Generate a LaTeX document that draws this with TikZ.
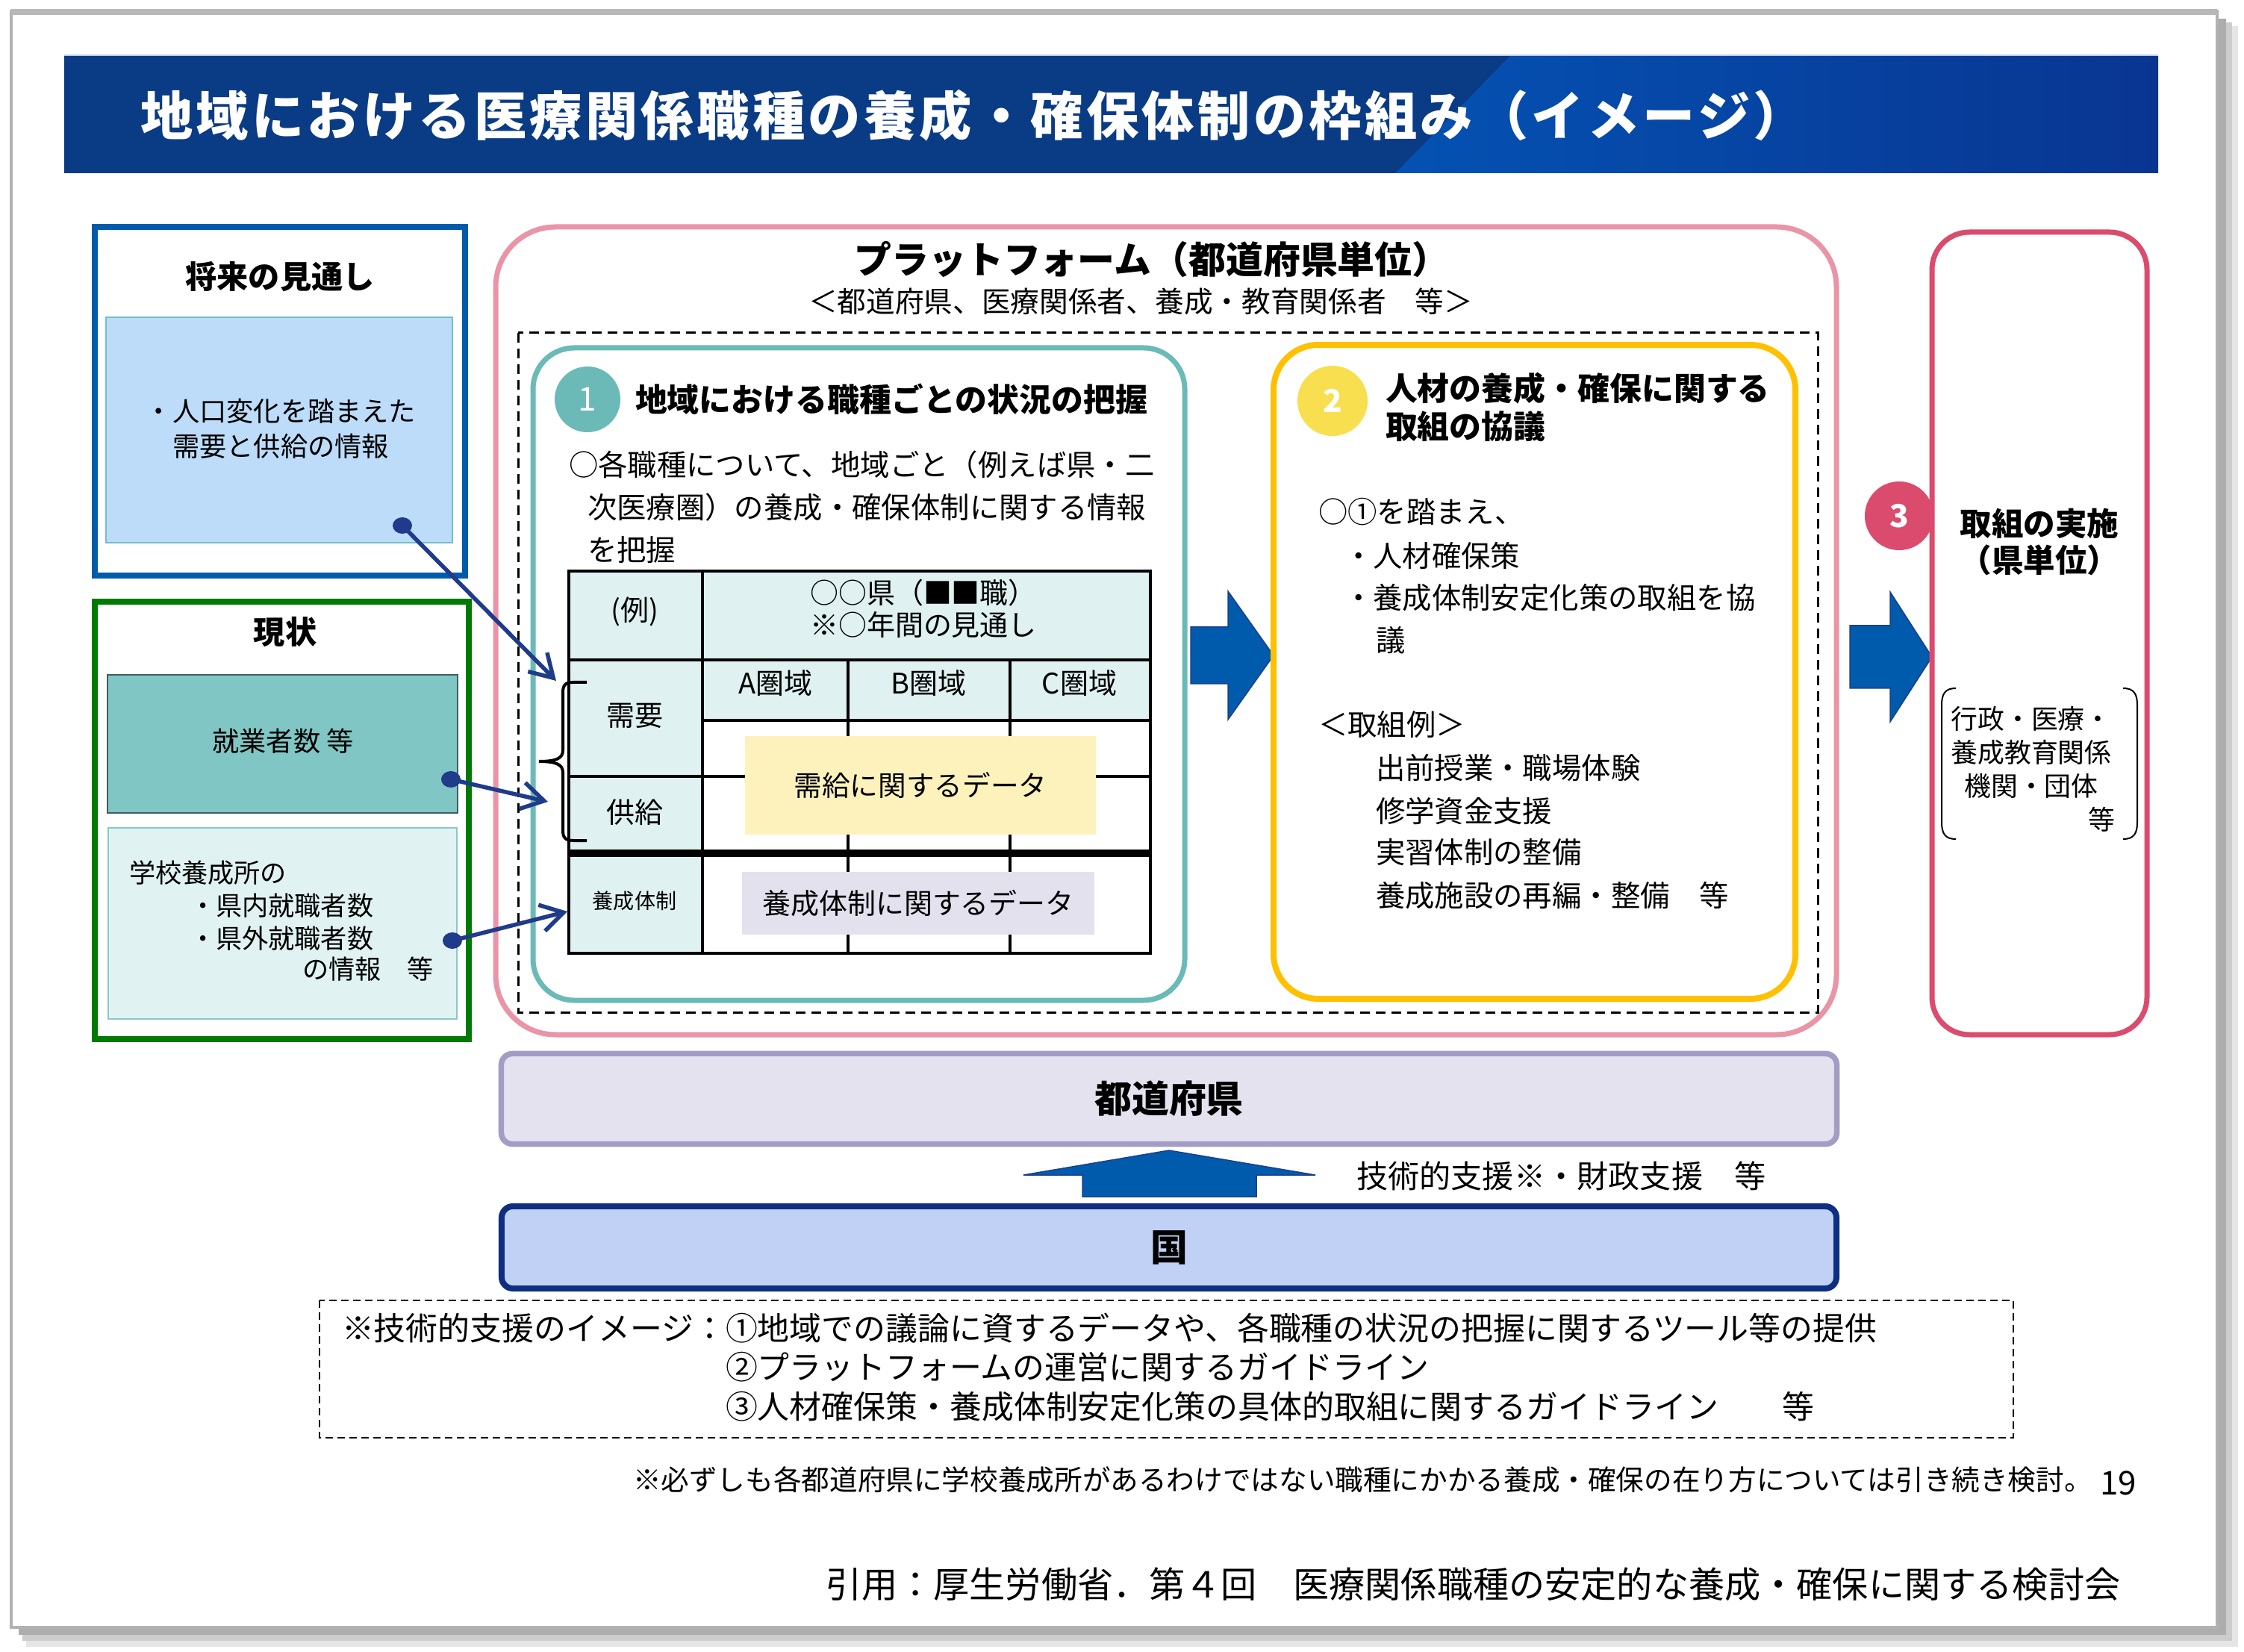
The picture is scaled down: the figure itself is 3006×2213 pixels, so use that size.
\documentclass[tikz,border=0pt]{standalone}
\usepackage{fontspec}
\setmainfont{Noto Sans CJK JP}
\usetikzlibrary{arrows.meta}
\definecolor{titledark}{HTML}{0A3B85}
\definecolor{titlelight}{HTML}{0452B3}
\definecolor{titleline}{HTML}{BCCBE6}
\definecolor{blueb}{HTML}{005BAC}
\definecolor{lblue}{HTML}{BDDCFA}
\definecolor{lbluedraw}{HTML}{73BFC4}
\definecolor{greenb}{HTML}{007A00}
\definecolor{tealfill}{HTML}{80C6C4}
\definecolor{tealdraw}{HTML}{3F5F5F}
\definecolor{paleteal}{HTML}{E0F2F2}
\definecolor{paletealdraw}{HTML}{86C9C9}
\definecolor{pinkb}{HTML}{E995A7}
\definecolor{tealb}{HTML}{6BBAB8}
\definecolor{goldb}{HTML}{FFC000}
\definecolor{yellowc}{HTML}{F8DF50}
\definecolor{crimson}{HTML}{DB4B6D}
\definecolor{lavb}{HTML}{A39DC5}
\definecolor{lavfill}{HTML}{E4E2EE}
\definecolor{navyb}{HTML}{0E2E82}
\definecolor{kunifill}{HTML}{C1D1F5}
\definecolor{arrfill}{HTML}{005BAC}
\definecolor{arrdraw}{HTML}{1B3F8C}
\definecolor{lnblue}{HTML}{1F3B8A}
\definecolor{tblfill}{HTML}{DFF1F1}
\definecolor{datay}{HTML}{FDF2BC}
\definecolor{datal}{HTML}{E3E1EE}
\newcommand{\fsz}[2]{\fontsize{#1}{#2}\selectfont}
\begin{document}
\begin{tikzpicture}[x=0.01cm,y=-0.01cm,
  every node/.style={inner sep=0pt, outer sep=0pt},
  txt/.style={font=\fsz{11.2pt}{16pt}, anchor=west},
  hd/.style={font=\bfseries\fsz{12.2pt}{14.5pt}},
  numc/.style={circle, text=white, font=\bfseries\fsz{12pt}{14pt}},
  conn/.style={lnblue, line width=0.055cm, -{Straight Barb[length=0.3cm, width=0.36cm]}},
  blockarr/.style={fill=arrfill, draw=arrdraw, line width=0.015cm},
  tline/.style={line width=0.035cm},
  cell/.style={font=\fsz{10.8pt}{12.3pt}, align=center}]
\useasboundingbox (0,0) rectangle (3006,2213);
% slide frame with shadow
\fill[black!10] (35,35) rectangle (2998,2206);
\fill[black!20] (30,30) rectangle (2990,2198);
\fill[black!32] (25,25) rectangle (2982,2190);
\filldraw[fill=white, draw=black!30, line width=0.04cm] (15,15) rectangle (2970,2180);
\draw[black!28, line width=0.08cm] (15,16) -- (2970,16);
% title bar
\fill[titledark] (86,75) rectangle (2891,232);
\shade[left color=titlelight, right color=titledark!90!blue] (2023,75) -- (2891,75) -- (2891,232) -- (1869,232) -- cycle;
\draw[titleline, line width=0.02cm] (86,74) -- (2891,74);
\node[anchor=west, text=white, font=\bfseries\fsz{20pt}{24pt}\addfontfeatures{LetterSpace=6}] (title) at (188,155) {地域における医療関係職種の養成・確保体制の枠組み（イメージ）};

% left box 1
\draw[blueb, line width=0.08cm] (127,304) rectangle (623,771);
\node[font=\bfseries\fsz{12pt}{14pt}] (futt) at (375,371) {将来の見通し};
\draw[fill=lblue, draw=lbluedraw, line width=0.02cm] (142,425) rectangle (606,727);
\node[font=\fsz{10.3pt}{13.4pt}, align=center] (futx) at (376,574) {・人口変化を踏まえた\\需要と供給の情報};
\coordinate (d1) at (539,704);

% left box 2
\draw[greenb, line width=0.08cm] (127,806) rectangle (628,1392);
\node[font=\bfseries\fsz{12pt}{14pt}] (gent) at (382,847) {現状};
\draw[fill=tealfill, draw=tealdraw, line width=0.02cm] (144,904) rectangle (613,1089);
\node[font=\fsz{10.3pt}{13pt}] (shu) at (379,993) {就業者数 等};
\coordinate (d2) at (604,1044);
\draw[fill=paleteal, draw=paletealdraw, line width=0.02cm] (145,1109) rectangle (612,1365);
\node[font=\fsz{10pt}{12pt}, anchor=west] (g1) at (173,1169) {学校養成所の};
\node[font=\fsz{10pt}{12pt}, anchor=west] (g2) at (254,1213) {・県内就職者数};
\node[font=\fsz{10pt}{12pt}, anchor=west] (g3) at (254,1257) {・県外就職者数};
\node[font=\fsz{10pt}{12pt}, anchor=west] (g4) at (405,1298) {の情報　等};
\coordinate (d3) at (606,1260);

% platform
\draw[pinkb, line width=0.07cm, rounded corners=0.8cm] (664,304) rectangle (2460,1386);
\node[font=\bfseries\fsz{14.2pt}{16pt}] (pft) at (1543,347) {プラットフォーム（都道府県単位）};
\node[font=\fsz{11pt}{13pt}] (pfs) at (1528,404) {＜都道府県、医療関係者、養成・教育関係者　等＞};
\draw[line width=0.03cm, dash pattern=on 0.13cm off 0.08cm] (694,446) rectangle (2435,1356);

% box 1
\draw[tealb, line width=0.07cm, rounded corners=0.55cm] (714,466) rectangle (1587,1340);
\node[numc, fill=tealb, minimum size=0.88cm, font=\fsz{12.5pt}{14pt}] (c1) at (787,535) {1};
\node[hd, anchor=west] (h1) at (851,535) {地域における職種ごとの状況の把握};
\node[txt] (b1a) at (762,623) {○各職種について、地域ごと（例えば県・二};
\node[txt] (b1b) at (787,680) {次医療圏）の養成・確保体制に関する情報};
\node[txt] (b1c) at (787,737) {を把握};

% table
\fill[tblfill] (762,765) rectangle (1541,884);
\fill[tblfill] (762,884) rectangle (941,1277);
\fill[tblfill] (941,884) rectangle (1541,965);
\draw[tline] (762,765) rectangle (1541,1277);
\draw[tline] (941,765) -- (941,1277);
\draw[tline] (762,884) -- (1541,884);
\draw[tline] (941,965) -- (1541,965);
\draw[tline] (1136,884) -- (1136,1277);
\draw[tline] (1353,884) -- (1353,1277);
\draw[tline] (762,1040) -- (1541,1040);
\draw[line width=0.09cm] (762,1143) -- (1541,1143);
\node[fill=datay, minimum width=4.70cm, minimum height=1.31cm, font=\fsz{10.7pt}{12pt}] (dj) at (1233,1052) {需給に関するデータ};
\node[fill=datal, minimum width=4.71cm, minimum height=0.83cm, font=\fsz{10.8pt}{12pt}] (dy) at (1230,1210) {養成体制に関するデータ};
\node[cell] (ex) at (850,819) {(例)};
\node[cell] (hdr) at (1237,815) {○○県（■■職）\\※○年間の見通し};
\node[cell] (ra) at (1039,915) {A圏域};
\node[cell] (rb) at (1244,915) {B圏域};
\node[cell] (rc) at (1446,915) {C圏域};
\node[cell] (juyo) at (850,959) {需要};
\node[cell] (kyok) at (850,1088) {供給};
\node[font=\fsz{8pt}{10pt}] (yosei) at (850,1207) {養成体制};
\draw[line width=0.04cm] (786,914) -- (768,914) .. controls (757,914) and (754,918) .. (754,928) -- (754,1005) .. controls (754,1016) and (745,1020) .. (722,1020) .. controls (745,1020) and (754,1024) .. (754,1035) -- (754,1112) .. controls (754,1122) and (757,1126) .. (768,1126) -- (786,1126);
\coordinate (e1) at (745,912);
\coordinate (e2) at (734,1074);
\coordinate (e3) at (760,1221);

% connectors from left boxes
\draw[conn] (d1) -- (e1);
\draw[conn] (d2) -- (e2);
\draw[conn] (d3) -- (e3);
\fill[lnblue] (d1) ellipse [x radius=0.13cm, y radius=0.11cm];
\fill[lnblue] (d2) ellipse [x radius=0.13cm, y radius=0.11cm];
\fill[lnblue] (d3) ellipse [x radius=0.13cm, y radius=0.11cm];

% block arrow 1 -> 2
\draw[blockarr] (1595,840) -- (1645,840) -- (1645,792) -- (1706,878) -- (1645,964) -- (1645,916) -- (1595,916) -- cycle;

% box 2
\draw[goldb, line width=0.08cm, rounded corners=0.6cm] (1706,462) rectangle (2405,1338);
\node[numc, fill=yellowc, minimum size=0.94cm] (c2) at (1785,537) {2};
\node[hd, anchor=west, align=left] (h2) at (1856,545) {人材の養成・確保に関する\\取組の協議};
\node[txt] (b2a) at (1766,686) {○①を踏まえ、};
\node[txt] (b2b) at (1800,744) {・人材確保策};
\node[txt] (b2c) at (1800,801) {・養成体制安定化策の取組を協};
\node[txt] (b2d) at (1843,858) {議};
\node[txt] (b2e) at (1766,971) {＜取組例＞};
\node[txt] (b2f) at (1843,1029) {出前授業・職場体験};
\node[txt] (b2g) at (1843,1086) {修学資金支援};
\node[txt] (b2h) at (1843,1142) {実習体制の整備};
\node[txt] (b2i) at (1843,1200) {養成施設の再編・整備　等};

% block arrow to 3
\draw[blockarr] (2478,838) -- (2532,838) -- (2532,793) -- (2588,880) -- (2532,967) -- (2532,922) -- (2478,922) -- cycle;

% box 3
\node[numc, fill=crimson, minimum size=0.92cm] (c3) at (2544,691) {3};
\draw[crimson, line width=0.07cm, rounded corners=0.5cm] (2588,311) rectangle (2876,1386);
\node[font=\bfseries\fsz{12.1pt}{13.7pt}, align=center] (h3) at (2732,726) {取組の実施\\（県単位）};
\node[font=\fsz{10.2pt}{12.8pt}, align=center] (b3) at (2721,1008) {行政・医療・\\養成教育関係\\機関・団体};
\node[font=\fsz{10.2pt}{12.8pt}, anchor=east] (b3e) at (2833,1098) {等};
\draw[line width=0.02cm] (2620,922) .. controls (2605,922) and (2601,930) .. (2601,945) -- (2601,1101) .. controls (2601,1116) and (2605,1124) .. (2620,1124);
\draw[line width=0.02cm] (2844,922) .. controls (2859,922) and (2863,930) .. (2863,945) -- (2863,1101) .. controls (2863,1116) and (2859,1124) .. (2844,1124);

% prefecture & country
\node[draw=lavb, fill=lavfill, line width=0.075cm, rounded corners=0.15cm, minimum width=17.88cm, minimum height=1.21cm, font=\bfseries\fsz{14.2pt}{16pt}] (pref) at (1566,1472) {都道府県};
\node[draw=navyb, fill=kunifill, line width=0.08cm, rounded corners=0.15cm, minimum width=17.87cm, minimum height=1.10cm, font=\bfseries\fsz{14.2pt}{16pt}] (kuni) at (1566,1671) {国};
\draw[blockarr] (1450,1603) -- (1450,1574) -- (1371,1574) -- (1566,1541) -- (1762,1574) -- (1683,1574) -- (1683,1603) -- cycle;
\node[font=\fsz{12pt}{14pt}, anchor=west] (sup) at (1817,1575) {技術的支援※・財政支援　等};

% bottom dashed box
\draw[line width=0.025cm, dash pattern=on 0.1cm off 0.06cm] (428,1742) rectangle (2697,1926);
\node[font=\fsz{12.2pt}{14pt}, anchor=west] (n0) at (458,1779) {※技術的支援のイメージ：};
\node[font=\fsz{12.2pt}{14pt}, anchor=west] (n1) at (972,1779) {①地域での議論に資するデータや、各職種の状況の把握に関するツール等の提供};
\node[font=\fsz{12.2pt}{14pt}, anchor=west] (n2) at (972,1831) {②プラットフォームの運営に関するガイドライン};
\node[font=\fsz{12.2pt}{14pt}, anchor=west] (n3) at (972,1884) {③人材確保策・養成体制安定化策の具体的取組に関するガイドライン　　等};

\node[font=\fsz{10.7pt}{12pt}, anchor=west] (note) at (848,1982) {※必ずしも各都道府県に学校養成所があるわけではない職種にかかる養成・確保の在り方については引き続き検討。};
\node[font=\fsz{12.5pt}{14pt}, anchor=west] (pg) at (2813,1987) {19};
\node[font=\fsz{13.7pt}{16pt}, anchor=west] (cite) at (1106,2122) {引用：厚生労働省．第４回　医療関係職種の安定的な養成・確保に関する検討会};
\end{tikzpicture}
\end{document}
